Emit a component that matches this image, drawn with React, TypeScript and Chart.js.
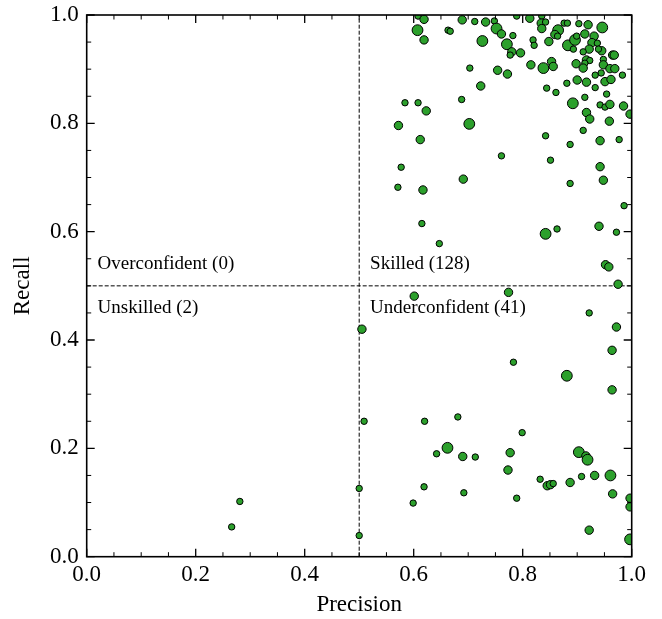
import { useEffect, useRef } from "react";
import { Chart, registerables } from "chart.js";

Chart.register(...registerables);

// precision / recall per forecaster, weight = marker size class (1 small .. 3 large)
const precision = [
  0.608, 0.619, 0.607, 0.619, 0.663, 0.667, 0.689, 0.712, 0.732, 0.748,
  0.752, 0.761, 0.782, 0.771, 0.78, 0.777, 0.796, 0.789, 0.813, 0.819,
  0.821, 0.835, 0.834, 0.835, 0.842, 0.848, 0.726, 0.703, 0.754, 0.772,
  0.815, 0.838, 0.853, 0.856, 0.723, 0.844, 0.584, 0.608, 0.688, 0.623,
  0.572, 0.702, 0.612, 0.577, 0.691, 0.571, 0.617, 0.615, 0.647, 0.876,
  0.882, 0.903, 0.92, 0.946, 0.865, 0.859, 0.864, 0.883, 0.893, 0.896,
  0.899, 0.914, 0.931, 0.927, 0.937, 0.922, 0.911, 0.945, 0.939, 0.965,
  0.968, 0.917, 0.923, 0.914, 0.898, 0.911, 0.948, 0.948, 0.944, 0.933,
  0.96, 0.969, 0.983, 0.881, 0.9, 0.917, 0.861, 0.933, 0.951, 0.962,
  0.954, 0.892, 0.914, 0.942, 0.951, 0.96, 0.985, 0.997, 0.917, 0.923,
  0.959, 0.911, 0.942, 0.977, 0.842, 0.887, 0.942, 0.948, 0.851, 0.761,
  0.887, 0.986, 0.842, 0.863, 0.94, 0.972, 0.952, 0.958, 0.975,
  // underconfident
  0.774, 0.922, 0.601, 0.505, 0.972, 0.964, 0.783, 0.881, 0.964, 0.509,
  0.62, 0.681, 0.799, 0.662, 0.642, 0.69, 0.713, 0.777, 0.773, 0.903,
  0.916, 0.919, 0.832, 0.845, 0.851, 0.856, 0.887, 0.908, 0.932, 0.961,
  0.965, 0.997, 0.997, 0.922, 0.997, 0.5, 0.5, 0.619, 0.599, 0.692,
  0.789,
  // unskilled
  0.281, 0.266,
];

const recall = [
  0.998, 0.992, 0.972, 0.954, 0.972, 0.97, 0.991, 0.988, 0.987, 0.989,
  0.975, 0.965, 0.962, 0.946, 0.932, 0.926, 0.93, 0.998, 0.994, 0.954,
  0.944, 0.998, 0.985, 0.975, 0.987, 0.951, 0.952, 0.902, 0.898, 0.891,
  0.908, 0.902, 0.914, 0.905, 0.869, 0.865, 0.838, 0.838, 0.844, 0.823,
  0.796, 0.799, 0.77, 0.719, 0.697, 0.682, 0.677, 0.615, 0.578, 0.985,
  0.985, 0.984, 0.982, 0.977, 0.972, 0.964, 0.961, 0.944, 0.937, 0.954,
  0.961, 0.965, 0.961, 0.949, 0.948, 0.937, 0.932, 0.934, 0.937, 0.926,
  0.926, 0.917, 0.916, 0.911, 0.91, 0.902, 0.918, 0.908, 0.893, 0.889,
  0.901, 0.901, 0.889, 0.874, 0.88, 0.876, 0.857, 0.866, 0.877, 0.881,
  0.854, 0.837, 0.848, 0.834, 0.83, 0.835, 0.832, 0.817, 0.82, 0.808,
  0.804, 0.787, 0.768, 0.77, 0.777, 0.761, 0.72, 0.695, 0.732, 0.74,
  0.689, 0.648, 0.596, 0.605, 0.61, 0.599, 0.539, 0.535, 0.503,
  // underconfident
  0.488, 0.45, 0.481, 0.42, 0.424, 0.381, 0.359, 0.334, 0.308, 0.25,
  0.25, 0.258, 0.229, 0.201, 0.19, 0.185, 0.184, 0.192, 0.16, 0.193,
  0.186, 0.179, 0.143, 0.131, 0.133, 0.135, 0.137, 0.148, 0.15, 0.15,
  0.116, 0.108, 0.092, 0.049, 0.032, 0.126, 0.039, 0.129, 0.099, 0.118,
  0.108,
  // unskilled
  0.102, 0.055,
];

const weight = [
  1, 2, 3, 2, 1, 1, 2, 1, 2, 1,
  3, 2, 1, 3, 2, 1, 2, 1, 2, 1,
  1, 1, 2, 2, 1, 2, 3, 1, 2, 2,
  2, 3, 2, 2, 2, 1, 1, 1, 1, 2,
  2, 3, 2, 1, 2, 1, 2, 1, 1, 1,
  1, 1, 2, 3, 3, 2, 1, 3, 1, 3,
  1, 2, 2, 2, 1, 2, 1, 2, 1, 2,
  2, 2, 1, 1, 2, 2, 1, 2, 1, 1,
  2, 2, 1, 1, 2, 2, 1, 1, 2, 2,
  1, 3, 1, 1, 1, 2, 2, 2, 2, 2,
  2, 1, 2, 1, 1, 1, 2, 2, 1, 1,
  1, 1, 3, 1, 2, 1, 2, 2, 2,
  2, 1, 2, 2, 2, 2, 1, 3, 2, 1,
  1, 1, 1, 3, 1, 2, 1, 2, 2, 3,
  2, 3, 1, 2, 2, 1, 2, 1, 2, 3,
  2, 2, 2, 2, 3, 1, 1, 1, 1, 1,
  1,
  1, 1,
];

const threshold = 0.5;
const quadrantLabels = [
  "Overconfident (0)",
  "Skilled (128)",
  "Unskilled (2)",
  "Underconfident (41)",
];

const FONT = '"Liberation Serif", "Times New Roman", serif';
const radiusFor: Record<number, number> = { 1: 3.2, 2: 4.2, 3: 5.4 };
const labelSpots = [
  [0.02, 0.54],
  [0.52, 0.54],
  [0.02, 0.46],
  [0.52, 0.46],
];

const framePlugin = {
  id: "frame",
  afterDatasetsDraw(chart: any) {
    const { ctx, chartArea: a, scales } = chart;
    const xs = scales.x;
    const ys = scales.y;
    ctx.save();
    ctx.strokeStyle = "#000";
    // inward ticks on all four sides, minor every 0.05
    for (let i = 0; i <= 20; i++) {
      const v = i * 0.05;
      const major = i % 4 === 0;
      const len = major ? 8 : 4.5;
      ctx.lineWidth = major ? 1.3 : 1;
      const px = xs.getPixelForValue(v);
      const py = ys.getPixelForValue(v);
      ctx.beginPath();
      ctx.moveTo(px, a.bottom);
      ctx.lineTo(px, a.bottom - len);
      ctx.moveTo(px, a.top);
      ctx.lineTo(px, a.top + len);
      ctx.moveTo(a.left, py);
      ctx.lineTo(a.left + len, py);
      ctx.moveTo(a.right, py);
      ctx.lineTo(a.right - len, py);
      ctx.stroke();
    }
    ctx.lineWidth = 1.6;
    ctx.strokeRect(a.left, a.top, a.right - a.left, a.bottom - a.top);

    ctx.font = `19px ${FONT}`;
    ctx.fillStyle = "#000";
    ctx.textBaseline = "middle";
    ctx.textAlign = "left";
    quadrantLabels.forEach((t, i) => {
      const [lx, ly] = labelSpots[i];
      ctx.fillText(t, xs.getPixelForValue(lx), ys.getPixelForValue(ly));
    });
    ctx.restore();
  },
};

export default function App() {
  const chartRef = useRef<HTMLCanvasElement>(null);
  const chartInstance = useRef<Chart | null>(null);

  useEffect(() => {
    if (!chartRef.current) return;
    if (chartInstance.current) {
      chartInstance.current.destroy();
    }
    const ctx = chartRef.current.getContext("2d");
    if (!ctx) return;

    const points = precision.map((p, i) => ({ x: p, y: recall[i] }));

    chartInstance.current = new Chart(ctx, {
      type: "scatter",
      data: {
        datasets: [
          {
            label: "forecasters",
            data: points,
            backgroundColor: "#2ca02c",
            borderColor: "#000",
            borderWidth: 1,
            pointRadius: weight.map((w) => radiusFor[w]),
            pointHoverRadius: weight.map((w) => radiusFor[w]),
            clip: 0,
            order: 0,
          },
          {
            label: "precision threshold",
            data: [
              { x: threshold, y: 0 },
              { x: threshold, y: 1 },
            ],
            showLine: true,
            borderColor: "#000",
            borderWidth: 1,
            borderDash: [4, 2],
            pointRadius: 0,
            order: 1,
          },
          {
            label: "recall threshold",
            data: [
              { x: 0, y: threshold },
              { x: 1, y: threshold },
            ],
            showLine: true,
            borderColor: "#000",
            borderWidth: 1,
            borderDash: [4, 2],
            pointRadius: 0,
            order: 1,
          },
        ],
      },
      options: {
        animation: false,
        responsive: true,
        maintainAspectRatio: false,
        events: [],
        layout: { padding: { top: 15, right: 30.3, left: 0, bottom: 0 } },
        plugins: {
          legend: { display: false },
          tooltip: { enabled: false },
        },
        scales: {
          x: {
            type: "linear",
            min: 0,
            max: 1,
            grid: { display: false, drawTicks: false },
            border: { display: false },
            ticks: {
              stepSize: 0.2,
              autoSkip: false,
              maxRotation: 0,
              padding: 4,
              color: "#000",
              font: { family: FONT, size: 23 },
              callback: (v: any) => Number(v).toFixed(1),
            },
            title: {
              display: true,
              text: "Precision",
              color: "#000",
              font: { family: FONT, size: 23 },
              padding: { top: 0, bottom: 0 },
            },
            afterFit: (s: any) => {
              s.height = 62.3;
              s.paddingLeft = 0;
              s.paddingRight = 0;
            },
          },
          y: {
            type: "linear",
            min: 0,
            max: 1,
            grid: { display: false, drawTicks: false },
            border: { display: false },
            ticks: {
              stepSize: 0.2,
              autoSkip: false,
              padding: 8,
              color: "#000",
              font: { family: FONT, size: 23 },
              callback: (v: any) => Number(v).toFixed(1),
            },
            title: {
              display: true,
              text: "Recall",
              color: "#000",
              font: { family: FONT, size: 23 },
              padding: { top: 9, bottom: 0 },
            },
            afterFit: (s: any) => {
              s.width = 86.7;
              s.paddingTop = 0;
              s.paddingBottom = 0;
            },
          },
        },
      },
      plugins: [framePlugin],
    });

    return () => {
      if (chartInstance.current) {
        chartInstance.current.destroy();
        chartInstance.current = null;
      }
    };
  }, []);

  return (
    <div
      style={{
        position: "absolute",
        left: 0,
        top: 0,
        width: 662,
        height: 619,
        background: "#fff",
      }}
    >
      <canvas ref={chartRef} />
    </div>
  );
}
